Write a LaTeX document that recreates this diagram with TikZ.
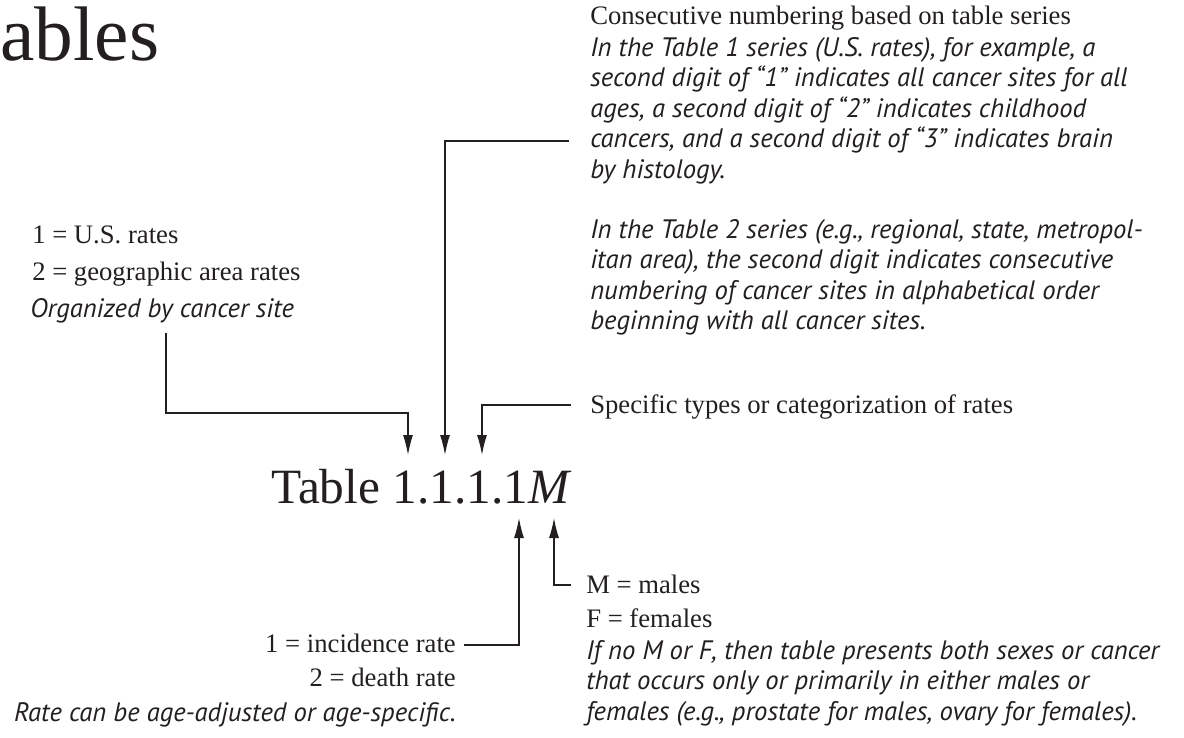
\documentclass[tikz,border=0pt]{standalone}
\usepackage{fontspec}
\setmainfont{Liberation Serif}
\newfontfamily\notefont{PT Sans}
\usetikzlibrary{arrows.meta}
\definecolor{ink}{HTML}{231F20}

\begin{document}
\begin{tikzpicture}[x=0.75pt, y=-0.75pt,
	every node/.style={inner sep=0pt, text=ink},
	serif/.style={font=\fontsize{20}{27}\selectfont},
	note/.style={font=\notefont\itshape\fontsize{20}{22.9}\selectfont, align=left},
	lead/.style={draw=ink, line width=0.9pt, -{Latex[length=15pt,width=7.5pt]}}]
	\useasboundingbox[fill=white] (0,0) rectangle (1184,738);

	\node[anchor=base west, font=\fontsize{58}{60}\selectfont] (title) at (0,61) {ables};

	% the code itself
	\node[anchor=base west, font=\fontsize{37}{40}\selectfont] (code) at (271,503) {Table 1.1.1.1\textit{M}};

	% upper left: first digit
	\node[serif, anchor=base west] (us) at (32,243) {1 = U.S. rates};
	\node[serif, anchor=base west] (geo) at (32,280) {2 = geographic area rates};
	\node[note, anchor=base west] (site) at (30,317) {Organized by cancer site};

	% upper right: second and third digit
	\node[serif, anchor=base west] (series) at (590,25) {Consecutive numbering based on table series};
	\node[note, anchor=north west] (tab1) at (590,37) {In the Table 1 series (U.S. rates), for example, a\\second digit of “1” indicates all cancer sites for all\\ages, a second digit of “2” indicates childhood\\cancers, and a second digit of “3” indicates brain\\by histology.};
	\node[note, anchor=north west] (tab2) at (590,219) {In the Table 2 series (e.g., regional, state, metropol-\\itan area), the second digit indicates consecutive\\numbering of cancer sites in alphabetical order\\beginning with all cancer sites.};
	\node[serif, anchor=base west] (types) at (590,413) {Specific types or categorization of rates};

	% lower left: fourth digit
	\node[serif, anchor=base east] (inc) at (456,652) {1 = incidence rate};
	\node[serif, anchor=base east] (death) at (456,686) {2 = death rate};
	\node[note, anchor=base east] (age) at (456,721) {Rate can be age-adjusted or age-specific.};

	% lower right: sex
	\node[serif, anchor=base west] (male) at (586,593) {M = males};
	\node[serif, anchor=base west] (female) at (586,627) {F = females};
	\node[note, anchor=north west] (both) at (586,640) {If no M or F, then table presents both sexes or cancer\\that occurs only or primarily in either males or\\females (e.g., prostate for males, ovary for females).};

	\coordinate (sitefoot) at (166,333);
	\coordinate (seriesend) at (569,141);
	\coordinate (typesend) at (571,405);
	\coordinate (incend) at (464,645);
	\coordinate (maleend) at (571,585);

	\coordinate (dsite) at (408,455);
	\coordinate (dseries) at (445,455);
	\coordinate (dtypes) at (482,455);
	\coordinate (drate) at (519,518);
	\coordinate (dsex) at (554,518);

	\draw[lead] (sitefoot) -- ++(0,80) -| (dsite);
	\draw[lead] (seriesend) -| (dseries);
	\draw[lead] (typesend) -| (dtypes);
	\draw[lead] (incend) -| (drate);
	\draw[lead] (maleend) -| (dsex);
\end{tikzpicture}
\end{document}
